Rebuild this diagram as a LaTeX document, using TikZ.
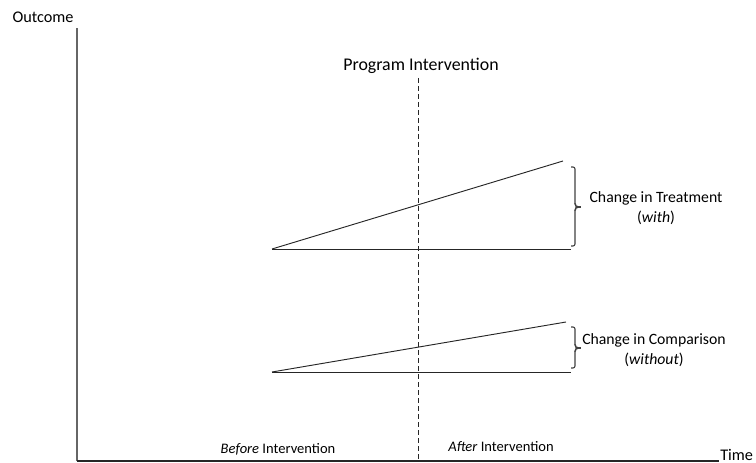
\documentclass[tikz,border=0pt]{standalone}
\usepackage{fontspec}
\setmainfont{Carlito}
\begin{document}
\begin{tikzpicture}[x=0.75pt,y=-0.75pt,
  axisline/.style={draw=black!85,line width=0.9pt},
  trend/.style={draw=black!85,line width=0.7pt},
  bracestyle/.style={draw=black!75,line width=0.8pt,rounded corners=1.5pt},
  lbl/.style={font=\fontsize{11.8}{15}\selectfont,inner sep=0pt,align=center},
  periodlbl/.style={font=\fontsize{10.9}{13}\selectfont,inner sep=0pt},
  biglbl/.style={font=\fontsize{13.4}{16}\selectfont,inner sep=0pt},
  axlbl/.style={font=\fontsize{12.2}{15}\selectfont,inner sep=0pt}]
\useasboundingbox (0,0) rectangle (756,463);
% axes
\coordinate (O) at (77,461);
\coordinate (ytop) at (77,28);
\coordinate (xend) at (719,461);
\draw[draw=black!60,line width=0.9pt] (O) -- (ytop);
\draw[axisline] (O) -- (xend);
\node[axlbl,anchor=center] (outcome) at (43,17) {Outcome};
\node[axlbl,anchor=west] (time) at (720,455) {Time};
% intervention
\coordinate (dtop) at (418,78);
\coordinate (dbot) at (418,461);
\draw[draw=black!85,line width=0.7pt,dash pattern=on 4pt off 2pt] (dtop) -- (dbot);
\node[biglbl] (prog) at (421,66) {Program Intervention};
% treatment
\coordinate (t0) at (272,249);
\coordinate (t1) at (563,161);
\coordinate (t2) at (571,249);
\draw[trend] (t0) -- (t1);
\draw[trend] (t0) -- (t2);
\draw[bracestyle] (571,167) -- (575,167) -- (575,205) -- (577,207) coordinate (ttip) -- (575,209) -- (575,246) -- (571,246);
\draw[bracestyle,rounded corners=0pt] (ttip) -- (581,207);
\node[lbl] (tlab) at (656,208) {Change in Treatment\\(\textit{with})};
% comparison
\coordinate (c0) at (272,372);
\coordinate (c1) at (566,322);
\coordinate (c2) at (571,372);
\draw[trend] (c0) -- (c1);
\draw[trend] (c0) -- (c2);
\draw[bracestyle] (571,327) -- (575,327) -- (575,346) -- (577,348) coordinate (ctip) -- (575,350) -- (575,368) -- (571,368);
\draw[bracestyle,rounded corners=0pt] (ctip) -- (581,348);
\node[lbl] (clab) at (654,350) {Change in Comparison\\(\textit{without})};
% period labels
\node[periodlbl] (before) at (278,449) {\textit{Before} Intervention};
\node[periodlbl] (after) at (501,447) {\textit{After} Intervention};
\end{tikzpicture}
\end{document}
